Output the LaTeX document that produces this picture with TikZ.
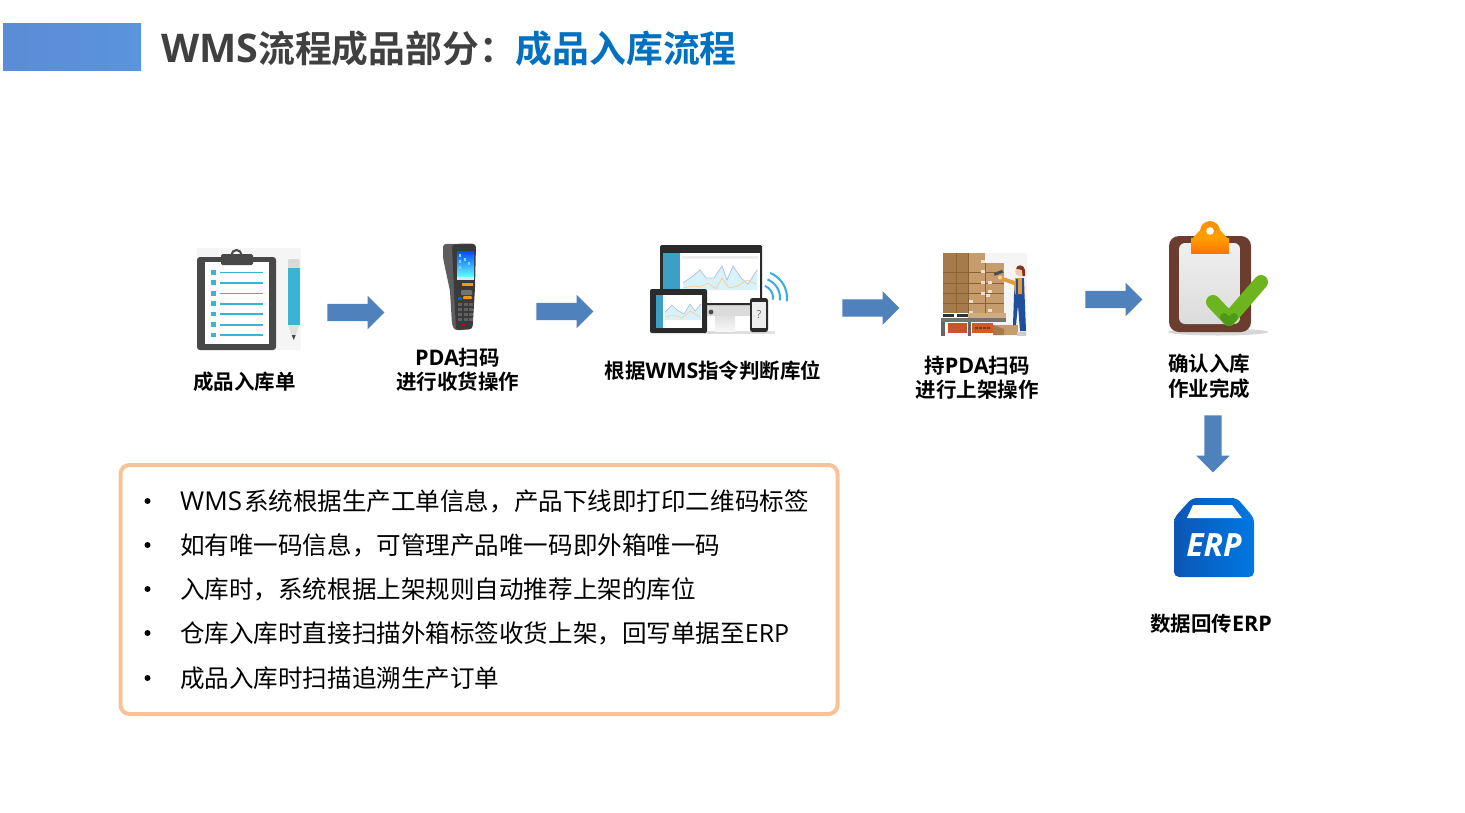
\documentclass[tikz,border=0pt]{standalone}
\usepackage{fontspec}
\usetikzlibrary{shapes.arrows}
\newfontfamily\cjkr{Noto Sans CJK SC}
\newfontfamily\cjkb{Noto Sans CJK SC Bold}
\newfontfamily\latr{Open Sans}
\newfontfamily\latb{Open Sans Bold}
\definecolor{arrowblue}{HTML}{4F81BD}
\definecolor{titlebarl}{HTML}{5B8CD6}
\definecolor{titlebarr}{HTML}{5A94DC}
\definecolor{titlegray}{HTML}{404040}
\definecolor{titleblue}{HTML}{0070C0}
\definecolor{boxedge}{HTML}{F8C196}
\definecolor{cyanline}{HTML}{3AB4D4}
\definecolor{boarddark}{HTML}{484848}
\definecolor{boxlight}{HTML}{C79C6C}
\definecolor{boxdark}{HTML}{A67B4B}
\definecolor{boxline}{HTML}{8A6236}
\definecolor{clipbrown}{HTML}{6B3D2E}
\definecolor{checkgreen}{HTML}{6DB51F}
\definecolor{checkdeep}{HTML}{4C9A1C}
\definecolor{erpl}{HTML}{0B57B5}
\definecolor{erpr}{HTML}{0078E2}
\definecolor{devdark}{HTML}{2A2A2A}
\definecolor{pdabody}{HTML}{3A3A3C}
\definecolor{pdaside}{HTML}{5E5E60}
\definecolor{sidecyan}{HTML}{3E9FC4}
\definecolor{wifi}{HTML}{38ADDF}
\definecolor{shirt}{HTML}{E39A3B}
\definecolor{pants}{HTML}{1F4E9A}
\definecolor{rust}{HTML}{C9542A}
\tikzset{
  blockarrow/.style={single arrow,draw=none,fill=arrowblue,inner sep=8.5pt,minimum height=57pt,single arrow head extend=8pt,single arrow head indent=0pt},
  steplabel/.style={font=\cjkb\fontsize{20.5}{24}\selectfont,text=black,inner sep=0pt,align=center},
  bodytext/.style={font=\cjkr\fontsize{24.55}{30}\selectfont,text=black,inner sep=0pt,anchor=west},
  bulletmark/.style={circle,fill=black,inner sep=0pt,minimum size=6pt},
  listline/.style={cyanline,line width=1.6pt},
  boxgrid/.style={boxline,line width=.5pt},
}
\newcommand{\lr}[1]{{\latr\fontsize{26}{30}\selectfont #1}}
\newcommand{\lb}[1]{{\latb\fontsize{21.5}{24}\selectfont #1}}
\begin{document}
\begin{tikzpicture}[x=1pt,y=-1pt]
\useasboundingbox (0,0) rectangle (1465,812);
\fill[white] (0,0) rectangle (1465,812);
% title
\shade[left color=titlebarl,right color=titlebarr] (3,23) rectangle (141,70);
\node[anchor=west,inner sep=0pt,font=\cjkb\fontsize{36.8}{40}\selectfont,text=titlegray] (title) at (161,49)
  {{\latb\fontsize{39.5}{40}\selectfont WMS}流程成品部分：\textcolor{titleblue}{成品入库流程}};

% block arrows
\node[blockarrow] (a1) at (351.5,312.5) {};
\node[blockarrow] (a2) at (560.5,311.5) {};
\node[blockarrow] (a3) at (866.5,308) {};
\node[blockarrow] (a4) at (1109.5,299.5) {};
\node[blockarrow,shape border rotate=270] (a5) at (1213,439.5) {};

% icon 1: clipboard and pencil
\fill[black!4] (197,248) rectangle (301,350);
\fill[boarddark,rounded corners=3pt] (197,257) rectangle (276,350);
\fill[white] (205,262) rectangle (269,344);
\draw[boarddark,line width=2pt] (236.5,255) circle (5);
\fill[boarddark,rounded corners=1.5pt] (221,254) rectangle (253,265);
\foreach \ly in {272.3,282.7,293.3,303.7,314,324.7,335}{
  \fill[cyanline] (211,\ly-2.3) rectangle (216,\ly+2.3);
  \draw[listline] (219.5,\ly) -- (263,\ly);
}
\fill[black!15,rounded corners=1pt] (288,259) rectangle (299.5,268);
\fill[cyanline] (288,268) rectangle (299.5,325);
\fill[black!12] (288,325) -- (299.5,325) -- (293.7,340) -- cycle;
\fill[boarddark] (291.7,335) -- (295.7,335) -- (293.7,340) -- cycle;

% icon 2: PDA
\fill[pdaside,rounded corners=3pt] (443,244) -- (475,243.5) -- (474,288) -- (472,329) -- (455,330.5) -- (452,325) -- (450,291) -- (443,258) -- cycle;
\fill[pdabody,rounded corners=3pt] (452,244.5) -- (476,244) -- (475,288) -- (472.5,329) -- (456,330) -- (454,290) -- cycle;
\shade[top color=blue!70!cyan,bottom color=cyan!60!white] (457,251) rectangle (474,277);
\fill[white!80!cyan] (457,277) rectangle (474,280);
\foreach \sx/\sy in {459/254,459/260,459/266,464/258,468/262}{\fill[white!50!cyan] (\sx,\sy) rectangle +(2.4,3);}
\fill[orange!80!yellow] (462,283) rectangle (473,285.5);
\fill[black!55,rounded corners=1pt] (461,290) rectangle (472,295);
\fill[orange!85!yellow,rounded corners=1pt] (463,296) rectangle (472,299);
\fill[blue!65!cyan] (458,297) rectangle (462,300);
\foreach \sx in {458,463.5,469}\foreach \sy in {303,308,313,318}{\fill[black!62] (\sx,\sy) rectangle +(4,3);}
\fill[red!80!black] (460.5,323.5) rectangle (464.5,325.5);

% icon 3: monitor, tablet, phone
\fill[black!14] (704,331) rectangle (760,334);
\shade[top color=black!12,bottom color=black!3] (715,316) rectangle (735,331);
\fill[black!14] (700,304) rectangle (762,316);
\fill[devdark,rounded corners=1.5pt] (660,245) rectangle (762,305);
\fill[white] (663,253) rectangle (760,303);
\fill[sidecyan] (663,253) rectangle (680,303);
\fill[black!7] (682,256) rectangle (758,259);
\fill[black!70] (711,312) circle (2.4);
\fill[cyan!25,opacity=.6] (683,290) -- (683,283) -- (693,276) -- (700,270) -- (706,278) -- (714,278) -- (722,266) -- (727,280) -- (733,266) -- (741,278) -- (748,284) -- (757,270) -- (757,290) -- cycle;
\draw[cyan!45!blue!30,line width=.8pt] (683,283) -- (693,276) -- (700,270) -- (706,278) -- (714,278) -- (722,266) -- (727,280) -- (733,266) -- (741,278) -- (748,284) -- (757,270);
\draw[orange!40,line width=.8pt] (683,288) -- (693,286) -- (700,287) -- (708,283) -- (716,289) -- (722,278) -- (729,288) -- (738,286) -- (747,280) -- (756,284);
\fill[devdark,rounded corners=2pt] (650,289) rectangle (707,333);
\fill[white] (656,295) rectangle (702,328);
\fill[sidecyan] (656,295) rectangle (663,328);
\fill[cyan!25,opacity=.6] (665,320) -- (665,312) -- (672,305) -- (677,310) -- (684,314) -- (690,304) -- (695,311) -- (701,304) -- (701,320) -- cycle;
\draw[cyan!45!blue!30,line width=.7pt] (665,312) -- (672,305) -- (677,310) -- (684,314) -- (690,304) -- (695,311) -- (701,304);
\draw[orange!40,line width=.7pt] (665,317) -- (674,315) -- (682,318) -- (690,311) -- (700,317);
\fill[black!12] (735,331) -- (775,331) -- (775,334) -- (735,334) -- cycle;
\fill[devdark,rounded corners=2.5pt] (750,298) rectangle (768,332);
\fill[black!7] (752,302) rectangle (766,328);
\node[inner sep=0pt,font=\latr\fontsize{11}{11}\selectfont,text=black!55] (phoneq) at (759,315) {?};
\foreach \wr in {13,20,27}{\draw[wifi,line width=2pt] plot[domain=-68:7,samples=16] ({760+\wr*cos(\x)},{298+\wr*sin(\x)});}

% icon 4: boxes, forklift and worker
\fill[black!4] (985,253) rectangle (1027,336);
\fill[boxlight] (943,253) rectangle (985,313);
\fill[boxdark] (943,253) rectangle (968,313);
\fill[boxlight] (985,263) rectangle (1004,313);
\foreach \gy in {272,283,293,303}{\draw[boxgrid] (943,\gy) -- (1004,\gy);}
\draw[boxgrid,line width=1pt] (956,253) -- (956,313);
\draw[boxgrid] (968,253) -- (968,313) (985,263) -- (985,313);
\foreach \tx/\ty in {981/260,981/270,981/281,988/281,988/290,981/292,969/300,986/294,988/309,969/311}{\fill[white!70!boxlight] (\tx,\ty) rectangle +(3.5,2.5);}
\fill[boxlight!85!white] (968,313) rectangle (1006,318);
\fill[black!80] (943,314) rectangle (954,317);
\fill[black!80] (957,314) rectangle (968,317);
\fill[black!55] (941,318) rectangle (1006,322);
\fill[black!60] (941,322) rectangle (945,335.5);
\fill[black!60] (968,322) rectangle (971,335.5);
\fill[rust] (948,323) rectangle (967,333);
\fill[rust!85!orange] (972,323) rectangle (993,333);
\foreach \dx in {975,979,983,987}{\fill[boxline!70!black] (\dx,327) rectangle +(2.5,2);}
\fill[boxlight] (993,325) rectangle (1018,335);
\fill[boxdark] (993,325) -- (1004,329) -- (1004,335) -- (993,335) -- cycle;
\fill[pants] (1015,281) -- (1024,281) -- (1026,331) -- (1020,331) -- (1018,305) -- (1016,325) -- (1013,325) -- (1014,295) -- cycle;
\fill[shirt] (1000,276) -- (1015,281) -- (1015,278) -- (1024,278) -- (1024.5,294) -- (1015,294) -- (1014,285) -- (999,279.5) -- cycle;
\draw[pants,line width=1.2pt] (1017,279) -- (1017,294) (1023,278) -- (1023,294);
\fill[black!70,rotate around={20:(998,273)}] (994,271.5) rectangle (1003,274.5);
\fill[orange!35!white] (1000,277.5) circle (2);
\fill[orange!30!white!85!brown] (1020,271.5) circle (4.8);
\fill[clipbrown!85!red] (1016,268.5) .. controls (1017,264) and (1024,264) .. (1025,270) -- (1025,276) -- (1022.5,276) -- (1022,270) -- cycle;
\fill[black!20] (1017,332) rectangle (1026,335.5);

% icon 5: clipboard with check
\fill[black!22,opacity=.7] (1218,332) ellipse (50 and 3.5);
\fill[clipbrown,rounded corners=10pt] (1169,236) rectangle (1251,332);
\shade[top color=black!6,bottom color=black!14,rounded corners=6pt] (1179,243) rectangle (1240,324);
\fill[orange!85!yellow] (1210,231) circle (10);
\shade[top color=orange!75!yellow,bottom color=orange!90!red] (1191,238) rectangle (1229,253);
\fill[orange!78!yellow] (1199,231) -- (1221,231) -- (1229,240) -- (1191,240) -- cycle;
\fill[white] (1210,231) circle (3.8);
\draw[checkgreen,line width=14pt,line cap=round,line join=round] (1213,302) -- (1229,319) -- (1261,282);
\draw[checkdeep,line width=8pt,line cap=round,line join=round] (1224,317) -- (1229,322) -- (1234,317);

% icon 6: ERP
\shade[left color=erpl,right color=erpr,rounded corners=5pt] (1192,498) -- (1237,498) -- (1254,518) -- (1254,577) -- (1174,577) -- (1174,518) -- cycle;
\fill[white] (1193,505) -- (1232,505) -- (1242,518) -- (1187,518) -- cycle;
\node[inner sep=0pt,font=\latr\bfseries\itshape\fontsize{32}{32}\selectfont,text=white] (erp) at (1214,545) {ERP};

% step labels
\node[steplabel] (l1) at (244.5,382) {成品入库单};
\node[steplabel] (l2a) at (457.5,358) {\lb{PDA}扫码};
\node[steplabel] (l2b) at (457.5,382) {进行收货操作};
\node[steplabel] (l3) at (713,371) {根据\lb{WMS}指令判断库位};
\node[steplabel] (l4a) at (977,366) {持\lb{PDA}扫码};
\node[steplabel] (l4b) at (977,390) {进行上架操作};
\node[steplabel] (l5a) at (1209,364) {确认入库};
\node[steplabel] (l5b) at (1209,389) {作业完成};
\node[steplabel] (l6) at (1211,624) {数据回传\lb{ERP}};

% list box
\draw[boxedge,line width=4pt,rounded corners=9pt] (120.5,465) rectangle (837.5,714);
\foreach \by [count=\bi] in {501,545,589,633,678}{\node[bulletmark] (b\bi) at (147.5,\by) {};}
\node[bodytext] (t1) at (180,501) {\lr{WMS}\hspace{2pt}系统根据生产工单信息，产品下线即打印二维码标签};
\node[bodytext] (t2) at (180,545) {如有唯一码信息，可管理产品唯一码即外箱唯一码};
\node[bodytext] (t3) at (180,589) {入库时，系统根据上架规则自动推荐上架的库位};
\node[bodytext] (t4) at (180,633) {仓库入库时直接扫描外箱标签收货上架，回写单据至{\latr\fontsize{25}{30}\selectfont ERP}};
\node[bodytext] (t5) at (180,678) {成品入库时扫描追溯生产订单};
\end{tikzpicture}
\end{document}
